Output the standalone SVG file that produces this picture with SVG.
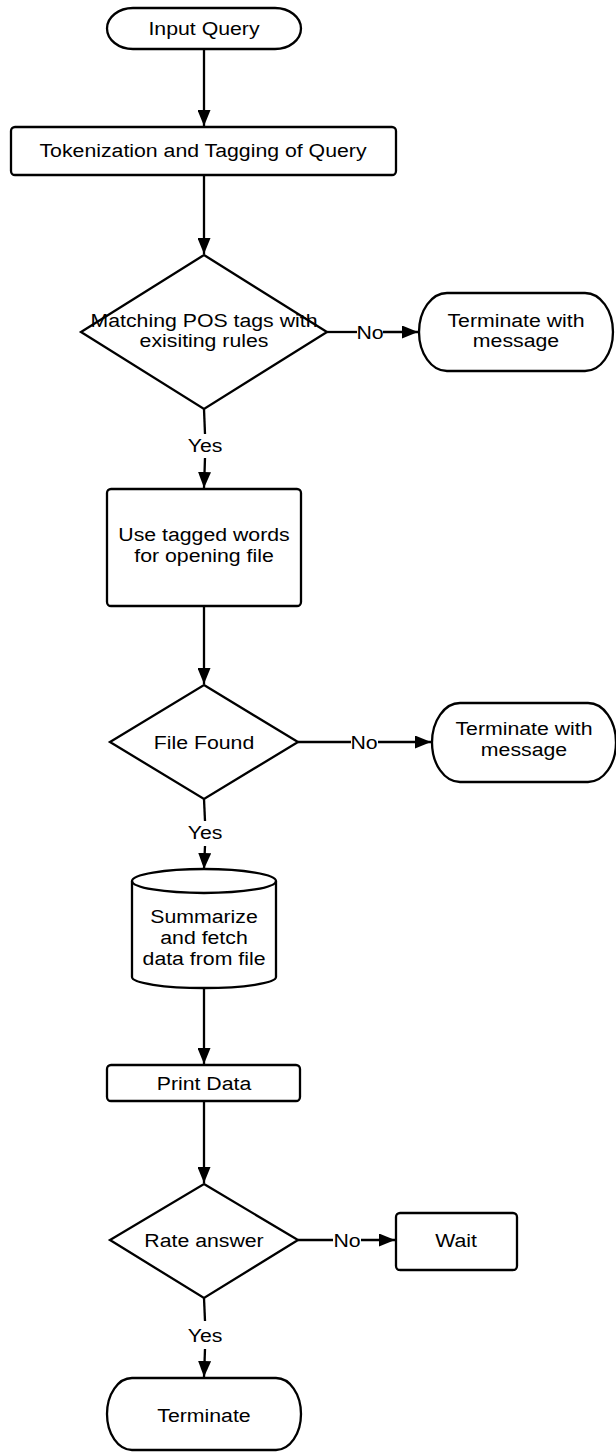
<svg xmlns="http://www.w3.org/2000/svg" width="616" height="1455" viewBox="0 0 616 1455">
<style>
.s{fill:#fff;stroke:#000;stroke-width:2.3}
.c{fill:none;stroke:#000;stroke-width:2.3}
.t{font-family:"Liberation Sans",Arial,sans-serif;font-size:19px;fill:#000;text-anchor:middle}
</style>
<defs>
<marker id="ah" markerWidth="16" markerHeight="13" refX="16" refY="6.5" orient="auto" markerUnits="userSpaceOnUse">
<path d="M0,0 L16,6.5 L0,13 Z" fill="#000"/>
</marker>
</defs>
<rect width="616" height="1455" fill="#fff"/>
<g id="connectors">
<line class="c" x1="204" y1="49" x2="204" y2="126" marker-end="url(#ah)"/>
<line class="c" x1="204" y1="175" x2="204" y2="254" marker-end="url(#ah)"/>
<line class="c" x1="204" y1="409" x2="205" y2="434"/>
<text class="t" transform="translate(205 452) scale(1.12 1)">Yes</text>
<line class="c" x1="205" y1="458" x2="204" y2="488" marker-end="url(#ah)"/>
<line class="c" x1="327" y1="332" x2="357" y2="332"/>
<text class="t" transform="translate(370 339) scale(1.12 1)">No</text>
<line class="c" x1="383" y1="332" x2="418" y2="332" marker-end="url(#ah)"/>
<line class="c" x1="204" y1="606" x2="204" y2="684" marker-end="url(#ah)"/>
<line class="c" x1="298" y1="742" x2="351" y2="742"/>
<text class="t" transform="translate(364 749) scale(1.12 1)">No</text>
<line class="c" x1="378" y1="742" x2="431" y2="742" marker-end="url(#ah)"/>
<line class="c" x1="204" y1="799" x2="205" y2="821"/>
<text class="t" transform="translate(205 839) scale(1.12 1)">Yes</text>
<line class="c" x1="205" y1="846" x2="204" y2="869" marker-end="url(#ah)"/>
<line class="c" x1="204" y1="988" x2="204" y2="1064" marker-end="url(#ah)"/>
<line class="c" x1="204" y1="1101" x2="204" y2="1183" marker-end="url(#ah)"/>
<line class="c" x1="298" y1="1240" x2="333" y2="1240"/>
<text class="t" transform="translate(347 1247) scale(1.12 1)">No</text>
<line class="c" x1="361" y1="1240" x2="395" y2="1240" marker-end="url(#ah)"/>
<line class="c" x1="204" y1="1298" x2="205" y2="1321"/>
<text class="t" transform="translate(205 1342) scale(1.12 1)">Yes</text>
<line class="c" x1="205" y1="1349" x2="204" y2="1377" marker-end="url(#ah)"/>
</g>
<g id="input-query">
<path class="s" d="M133,8 L275,8 A26,20.5 0 0 1 275,49 L133,49 A26,20.5 0 0 1 133,8 Z"/>
<text class="t" transform="translate(204 35) scale(1.12 1)">Input Query</text>
</g>
<g id="tokenization">
<rect class="s" x="11" y="127" width="385" height="48" rx="4"/>
<text class="t" transform="translate(203 157) scale(1.12 1)">Tokenization and Tagging of Query</text>
</g>
<g id="matching-pos">
<polygon class="s" points="204,255 327,332 204,409 81,332"/>
<text class="t" transform="translate(204 327) scale(1.12 1)">Matching POS tags with</text>
<text class="t" transform="translate(204 347) scale(1.12 1)">exisiting rules</text>
</g>
<g id="terminate-msg-1">
<path class="s" d="M447,293 L585,293 A28,39 0 0 1 585,371 L447,371 A28,39 0 0 1 447,293 Z"/>
<text class="t" transform="translate(516 327) scale(1.12 1)">Terminate with</text>
<text class="t" transform="translate(516 347) scale(1.12 1)">message</text>
</g>
<g id="use-tagged-words">
<rect class="s" x="107" y="489" width="194" height="117" rx="4"/>
<text class="t" transform="translate(204 541) scale(1.12 1)">Use tagged words</text>
<text class="t" transform="translate(204 562) scale(1.12 1)">for opening file</text>
</g>
<g id="file-found">
<polygon class="s" points="204,685 298,742 204,799 110,742"/>
<text class="t" transform="translate(204 749) scale(1.12 1)">File Found</text>
</g>
<g id="terminate-msg-2">
<path class="s" d="M460,703 L588,703 A28,39.5 0 0 1 588,782 L460,782 A28,39.5 0 0 1 460,703 Z"/>
<text class="t" transform="translate(524 735) scale(1.12 1)">Terminate with</text>
<text class="t" transform="translate(524 756) scale(1.12 1)">message</text>
</g>
<g id="summarize">
<path class="s" d="M132,881 A72,12 0 0 1 276,881 L276,977 A72,11 0 0 1 132,977 Z"/>
<path class="c" d="M132,881 A72,12 0 0 0 276,881"/>
<text class="t" transform="translate(204 923) scale(1.12 1)">Summarize</text>
<text class="t" transform="translate(204 944) scale(1.12 1)">and fetch</text>
<text class="t" transform="translate(204 965) scale(1.12 1)">data from file</text>
</g>
<g id="print-data">
<rect class="s" x="107" y="1065" width="193" height="36" rx="4"/>
<text class="t" transform="translate(204 1090) scale(1.12 1)">Print Data</text>
</g>
<g id="rate-answer">
<polygon class="s" points="204,1184 298,1240 204,1298 110,1240"/>
<text class="t" transform="translate(204 1247) scale(1.12 1)">Rate answer</text>
</g>
<g id="wait">
<rect class="s" x="396" y="1213" width="121" height="57" rx="4"/>
<text class="t" transform="translate(456 1247) scale(1.12 1)">Wait</text>
</g>
<g id="terminate">
<path class="s" d="M132,1378 L276,1378 A25,36 0 0 1 276,1450 L132,1450 A25,36 0 0 1 132,1378 Z"/>
<text class="t" transform="translate(204 1422) scale(1.12 1)">Terminate</text>
</g>
</svg>
